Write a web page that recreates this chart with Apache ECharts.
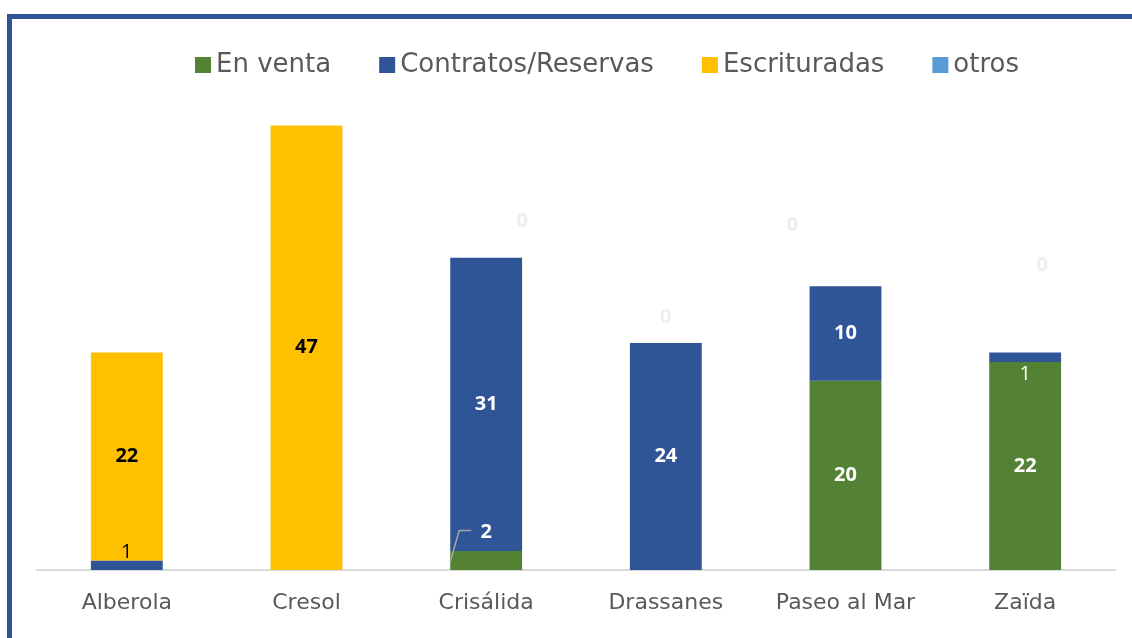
<!DOCTYPE html>
<html>
<head>
<meta charset="utf-8">
<script src="https://cdn.jsdelivr.net/npm/echarts@6/dist/echarts.min.js"></script>
<style>
  html, body { margin: 0; padding: 0; background: #fff; }
  #main { width: 1132px; height: 638px; }
</style>
</head>
<body>
<div id="main"></div>
<script>
const categories = ['Alberola', 'Cresol', 'Crisálida', 'Drassanes', 'Paseo al Mar', 'Zaïda']
const enVenta = [null, null, 2, null, 20, 22]
const contratos = [1, null, 31, 24, 10, 1]
const escrituradas = [22, 47, null, null, null, null]
const otros = [null, null, 0, 0, 0, 0]

// label nudges copied from the original layout
const otrosOffsets = [null, null, [36, -37], [0, -26], [-53, -61], [17, -87]]

let chartInstance = echarts.init(document.getElementById('main'))

const fontAxis = 'DejaVu Sans'
const fontLabel = 'Open Sans'
const barRatio = 0.4

function labelBase(color) {
  return {
    show: true,
    position: 'inside',
    color: color,
    fontFamily: fontLabel,
    fontWeight: 'bold',
    fontSize: 20
  }
}

const option = {
  backgroundColor: '#ffffff',
  animation: false,
  graphic: [{
    type: 'rect',
    left: 7,
    top: 14,
    shape: { width: 1200, height: 700 },
    style: { fill: 'none', stroke: '#2F5597', lineWidth: 5 },
    silent: true
  }],
  legend: {
    top: 47,
    left: 190,
    itemWidth: 16,
    itemHeight: 16,
    itemGap: 48,
    icon: 'rect',
    textStyle: { color: '#595959', fontFamily: fontAxis, fontSize: 26 },
    data: ['En venta', 'Contratos/Reservas', 'Escrituradas', 'otros']
  },
  grid: { left: 37, right: 17, top: 97, bottom: 68 },
  xAxis: {
    type: 'category',
    data: categories,
    axisLine: { lineStyle: { color: '#d9d9d9', width: 2 } },
    axisTick: { show: false },
    axisLabel: { color: '#595959', fontFamily: fontAxis, fontSize: 22, margin: 22, interval: 0 }
  },
  yAxis: {
    type: 'value',
    min: 0,
    max: 50,
    show: false,
    splitLine: { show: false }
  },
  series: [
    {
      name: 'En venta',
      type: 'bar',
      stack: 'total',
      barCategoryGap: (100 - barRatio * 100) + '%',
      itemStyle: { color: '#548235' },
      label: labelBase('#ffffff'),
      data: enVenta.map((v, i) => {
        if (i === 2) return { value: v, label: { offset: [0, -28] } }
        return v
      })
    },
    {
      name: 'Contratos/Reservas',
      type: 'bar',
      stack: 'total',
      itemStyle: { color: '#2F5597' },
      label: labelBase('#ffffff'),
      data: contratos.map((v, i) => {
        if (i === 0) return { value: v, label: { color: '#000000', fontWeight: 'normal', offset: [0, -13] } }
        if (i === 5) return { value: v, label: { fontWeight: 'normal', offset: [0, 17] } }
        return v
      })
    },
    {
      name: 'Escrituradas',
      type: 'bar',
      stack: 'total',
      itemStyle: { color: '#FFC000' },
      label: labelBase('#000000'),
      data: escrituradas
    },
    {
      name: 'otros',
      type: 'bar',
      stack: 'total',
      itemStyle: { color: '#5B9BD5' },
      label: {
        show: true,
        position: 'inside',
        color: '#eeeeee',
        fontFamily: fontLabel,
        fontWeight: 'bold',
        fontSize: 20
      },
      data: otros.map((v, i) => {
        if (v === null) return null
        return { value: v, label: { offset: otrosOffsets[i] } }
      })
    }
  ]
}

chartInstance.setOption(option)

// leader line for the lifted "2" label on Crisálida, placed from the axis scales
function addLeader() {
  const idx = 2
  const c0 = chartInstance.convertToPixel({ gridIndex: 0 }, [categories[0], 0])
  const c1 = chartInstance.convertToPixel({ gridIndex: 0 }, [categories[1], 0])
  const band = c1[0] - c0[0]
  const mid = chartInstance.convertToPixel({ gridIndex: 0 }, [categories[idx], enVenta[idx] / 2])
  const top = chartInstance.convertToPixel({ gridIndex: 0 }, [categories[idx], enVenta[idx]])
  const x0 = mid[0] - band * barRatio / 2
  const labelY = mid[1] - 30
  chartInstance.setOption({
    graphic: [option.graphic[0], {
      type: 'polyline',
      shape: { points: [[x0, (mid[1] + top[1]) / 2 + 6], [x0 + 9, labelY], [x0 + 21, labelY]] },
      style: { stroke: '#a6a6a6', lineWidth: 1.5, fill: 'none' },
      z: 10,
      silent: true
    }]
  })
}
addLeader()

window.onresize = function () {
  chartInstance.resize()
  addLeader()
}
</script>
</body>
</html>
